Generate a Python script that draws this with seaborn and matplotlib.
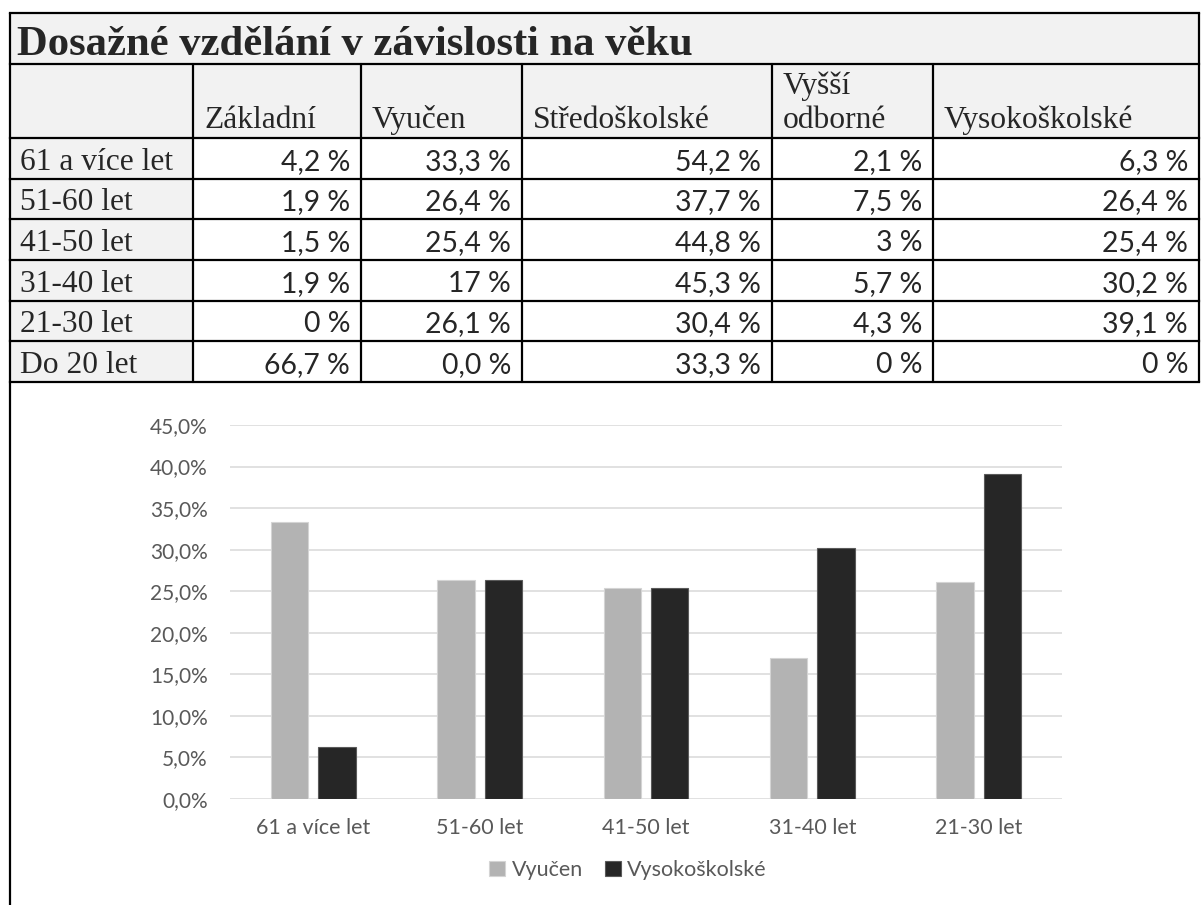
import numpy as np
import pandas as pd
import matplotlib
matplotlib.use('Agg')
import matplotlib.pyplot as plt
import seaborn as sns
from matplotlib.patches import Rectangle, Patch
from matplotlib.ticker import FuncFormatter

# --- data (as printed in the table) ---
title = 'Dosažné vzdělání v závislosti na věku'
ages = ['61 a více let', '51-60 let', '41-50 let', '31-40 let', '21-30 let', 'Do 20 let']
levels = ['Základní', 'Vyučen', 'Středoškolské', 'Vyšší\nodborné', 'Vysokoškolské']
zakladni = ['4,2 %', '1,9 %', '1,5 %', '1,9 %', '0 %', '66,7 %']
vyucen = ['33,3 %', '26,4 %', '25,4 %', '17 %', '26,1 %', '0,0 %']
stredoskolske = ['54,2 %', '37,7 %', '44,8 %', '45,3 %', '30,4 %', '33,3 %']
vyssi_odborne = ['2,1 %', '7,5 %', '3 %', '5,7 %', '4,3 %', '0 %']
vysokoskolske = ['6,3 %', '26,4 %', '25,4 %', '30,2 %', '39,1 %', '0 %']

# chart shows two of the columns, without the youngest group
chart_series = ['Vyučen', 'Vysokoškolské']
chart_ages = ages[:5]
chart_colors = ['#b3b3b3', '#262626']
chart_edges = ['#d4d4d4', '#5a5a5a']


def pct(s):
    return float(s.replace('%', '').replace(',', '.').strip()) / 100


sns.set_theme(style='white')
plt.rcParams['font.family'] = ['Lato', 'DejaVu Sans']

W, H = 1201, 905
fig = plt.figure(figsize=(W / 100, H / 100), dpi=100)

# --- table, drawn in pixel space ---
tab = fig.add_axes([0, 0, 1, 1])
tab.set_xlim(0, W)
tab.set_ylim(H, 0)
tab.axis('off')

col_x = [10, 193, 361, 522, 772, 933, 1199]
row_y = [13, 64] + list(np.linspace(138, 382, len(ages) + 1))
grey = '#f2f2f2'
lw = 1.6
serif = 'Liberation Serif'

tab.add_patch(Rectangle((col_x[0], row_y[0]), col_x[-1] - col_x[0], row_y[2] - row_y[0], fc=grey, ec='none'))
tab.add_patch(Rectangle((col_x[0], row_y[2]), col_x[1] - col_x[0], row_y[-1] - row_y[2], fc=grey, ec='none'))

for y in row_y:
    tab.plot([col_x[0], col_x[-1]], [y, y], color='black', lw=lw, solid_capstyle='projecting')
for x in col_x[1:-1]:
    tab.plot([x, x], [row_y[1], row_y[-1]], color='black', lw=lw)
tab.plot([col_x[-1], col_x[-1]], [row_y[0], row_y[-1]], color='black', lw=lw)
tab.plot([col_x[0], col_x[0]], [row_y[0], H + 5], color='black', lw=lw)

tab.text(17, 55, title, family=serif, fontweight='bold', fontsize=30.7, va='baseline', ha='left')

for j, lab in enumerate(levels):
    lines = lab.split('\n')
    for k, line in enumerate(reversed(lines)):
        tab.text(col_x[j + 1] + 11, row_y[2] - 10 - k * 34, line, family=serif,
                 fontsize=22.7, va='baseline', ha='left')

columns = [zakladni, vyucen, stredoskolske, vyssi_odborne, vysokoskolske]
for i, age in enumerate(ages):
    base = row_y[i + 3] - 9
    tab.text(20, base, age, family=serif, fontsize=22.7, va='baseline', ha='left')
    for j, col in enumerate(columns):
        tab.text(col_x[j + 2] - 11, base, col[i], fontsize=20.4, va='baseline', ha='right')

# --- bar chart ---
ax = fig.add_axes([230 / W, 1 - 799 / H, 832 / W, 374 / H])
df = pd.DataFrame({
    'age': chart_ages * 2,
    'series': [chart_series[0]] * 5 + [chart_series[1]] * 5,
    'value': [pct(v) for v in vyucen[:5]] + [pct(v) for v in vysokoskolske[:5]],
})
sns.barplot(data=df, x='age', y='value', hue='series', order=chart_ages, hue_order=chart_series,
            palette=chart_colors, saturation=1, width=0.57, gap=0.21, errorbar=None,
            legend=False, ax=ax)
for cont, ec in zip(ax.containers, chart_edges):
    for p in cont:
        p.set_edgecolor(ec)
        p.set_linewidth(0.8)

ax.set_ylim(0, 0.45)
ax.set_yticks(np.arange(0, 0.451, 0.05))
ax.yaxis.set_major_formatter(FuncFormatter(lambda v, _: f'{v * 100:.1f}%'.replace('.', ',')))
ax.yaxis.grid(True, color='#d9d9d9', lw=1.1)
ax.set_axisbelow(True)
for s in ax.spines.values():
    s.set_visible(False)
ax.tick_params(axis='both', length=0, labelcolor='#595959')
ax.tick_params(axis='y', pad=16, labelsize=15)
ax.tick_params(axis='x', pad=14, labelsize=15.5)
ax.set_xlabel('')
ax.set_ylabel('')
ax.patch.set_alpha(0)

handles = [Patch(facecolor=c, edgecolor=e, lw=0.8) for c, e in zip(chart_colors, chart_edges)]
fig.legend(handles, chart_series, loc='center', bbox_to_anchor=(628 / W, 1 - 870 / H), ncol=2,
           frameon=False, handlelength=0.75, handleheight=0.75, handletextpad=0.3,
           columnspacing=1.0, fontsize=15.5, labelcolor='#595959')

fig.savefig('out.png', dpi=100)
